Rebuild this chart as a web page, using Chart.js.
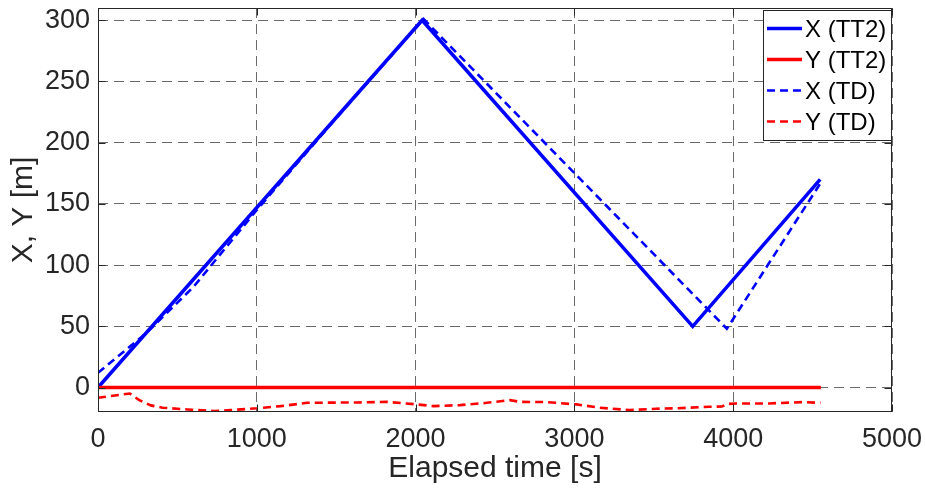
<!DOCTYPE html>
<html><head><meta charset="utf-8">
<script src="https://cdn.jsdelivr.net/npm/chart.js@4.4.1/dist/chart.umd.min.js"></script>
<style>html,body{margin:0;padding:0;background:#fff}#wrap{width:925px;height:490px;position:relative}</style>
</head><body><div id="wrap"><canvas id="c"></canvas></div>
<script>
// ---- data ----
const xTT2_t = [0, 2041, 3745, 4548];
const xTT2_v = [0, 300, 50, 170];
const yTT2_t = [0, 4552];
const yTT2_v = [0, 0];
const xTD_t = [0, 300, 600, 1000, 1500, 2050, 3960, 4550];
const xTD_v = [12, 44, 82, 145, 220, 301, 48, 167];
const yTD_t = [0, 200, 260, 333, 406, 563, 731, 835, 1003, 1150, 1317, 1631, 1819, 2008, 2113, 2280, 2448, 2594, 2657, 2825, 3013, 3160, 3348, 3516, 3641, 3850, 3930, 3960, 4018, 4227, 4437, 4550];
const yTD_v = [-8.4, -4.9, -10.3, -14.6, -16.5, -17.9, -19.2, -18.4, -17.0, -15.2, -12.5, -12.2, -11.7, -13.8, -15.2, -14.4, -12.5, -10.3, -11.7, -11.9, -13.8, -16.5, -18.4, -17.3, -17.0, -15.7, -15.5, -13.5, -13.0, -13.0, -11.9, -12.5];
const xTicks = [0, 1000, 2000, 3000, 4000, 5000];
const yTicks = [0, 50, 100, 150, 200, 250, 300];
const seriesLabels = ['X (TT2)', 'Y (TT2)', 'X (TD)', 'Y (TD)'];
const xTitle = 'Elapsed time [s]';
const yTitle = 'X, Y [m]';

const pts = (t, v) => t.map((x, i) => ({x: x, y: v[i]}));
const FONT = "'Liberation Sans', Arial, sans-serif";

const framePlugin = {
  id: 'frame',
  afterDatasetsDraw(chart) {
    const {ctx, chartArea: a, scales: {x, y}} = chart;
    ctx.save();
    ctx.setLineDash([]);
    ctx.strokeStyle = '#262626';
    ctx.lineWidth = 1;
    const L = Math.round(a.left) + 0.5, T = Math.round(a.top) + 0.5;
    const R = Math.round(a.right) - 0.5, B = Math.round(a.bottom) - 0.5;
    ctx.strokeRect(L, T, R - L, B - T);
    const tl = 7;
    ctx.beginPath();
    xTicks.forEach(v => {
      const px = Math.round(x.getPixelForValue(v)) + 0.5;
      ctx.moveTo(px, B); ctx.lineTo(px, B - tl);
      ctx.moveTo(px, T); ctx.lineTo(px, T + tl);
    });
    yTicks.forEach(v => {
      const py = Math.round(y.getPixelForValue(v)) + 0.5;
      ctx.moveTo(L, py); ctx.lineTo(L + tl, py);
      ctx.moveTo(R, py); ctx.lineTo(R - tl, py);
    });
    ctx.stroke();
    // legend
    const lx = 763.5, ly = T + 2, lw = R - 763.5, lh = 130;
    ctx.fillStyle = '#fff';
    ctx.fillRect(lx, ly, lw, lh);
    ctx.strokeStyle = '#262626';
    ctx.strokeRect(lx, ly, lw, lh);
    chart.data.datasets.forEach((ds, i) => {
      const ry = ly + 18 + i * 31;
      ctx.beginPath();
      ctx.setLineDash(ds.borderDash || []);
      ctx.strokeStyle = ds.borderColor;
      ctx.lineWidth = ds.borderWidth;
      ctx.moveTo(767, ry); ctx.lineTo(802, ry);
      ctx.stroke();
      ctx.setLineDash([]);
      ctx.fillStyle = '#000';
      ctx.font = '24px ' + FONT;
      ctx.textBaseline = 'middle';
      ctx.textAlign = 'left';
      ctx.fillText(ds.label, 805, ry + 2);
    });
    ctx.restore();
  }
};

new Chart(document.getElementById('c'), {
  type: 'line',
  data: {
    datasets: [
      {label: seriesLabels[0], data: pts(xTT2_t, xTT2_v), borderColor: '#0000ff', borderWidth: 3.5, pointRadius: 0, fill: false, order: 4},
      {label: seriesLabels[1], data: pts(yTT2_t, yTT2_v), borderColor: '#ff0000', borderWidth: 3.5, pointRadius: 0, fill: false, order: 3},
      {label: seriesLabels[2], data: pts(xTD_t, xTD_v), borderColor: '#0000ff', borderWidth: 2.6, borderDash: [8, 5], pointRadius: 0, fill: false, order: 2},
      {label: seriesLabels[3], data: pts(yTD_t, yTD_v), borderColor: '#ff0000', borderWidth: 2.6, borderDash: [8, 5], pointRadius: 0, fill: false, order: 1}
    ]
  },
  options: {
    responsive: true,
    maintainAspectRatio: false,
    devicePixelRatio: 1,
    animation: false,
    layout: {padding: {left: 0, right: 33, top: 8, bottom: 0}},
    plugins: {legend: {display: false}, tooltip: {enabled: false}},
    scales: {
      x: {
        type: 'linear', min: 0, max: 5000,
        afterBuildTicks: s => { s.ticks = xTicks.map(v => ({value: v})); },
        afterFit: s => { s.height = 78; s.paddingLeft = 0; s.paddingRight = 0; },
        grid: {color: '#6a6a6a', lineWidth: 1, drawTicks: false},
        border: {display: false, dash: [10, 6]},
        ticks: {padding: 11, color: '#262626', font: {family: FONT, size: 27}, maxRotation: 0, callback: v => String(v)},
        title: {display: true, text: xTitle, color: '#262626', font: {family: FONT, size: 30}, padding: {top: 0, bottom: 3}}
      },
      y: {
        type: 'linear', min: -20, max: 310,
        afterBuildTicks: s => { s.ticks = yTicks.map(v => ({value: v})); },
        afterFit: s => { s.width = 98; s.paddingTop = 0; s.paddingBottom = 0; },
        grid: {color: '#6a6a6a', lineWidth: 1, drawTicks: false},
        border: {display: false, dash: [10, 6]},
        ticks: {padding: 8, color: '#262626', font: {family: FONT, size: 27}, callback: v => String(v)},
        title: {display: true, text: yTitle, color: '#262626', font: {family: FONT, size: 30}, padding: {top: 6, bottom: 0}}
      }
    }
  },
  plugins: [framePlugin]
});
</script>
</body></html>
